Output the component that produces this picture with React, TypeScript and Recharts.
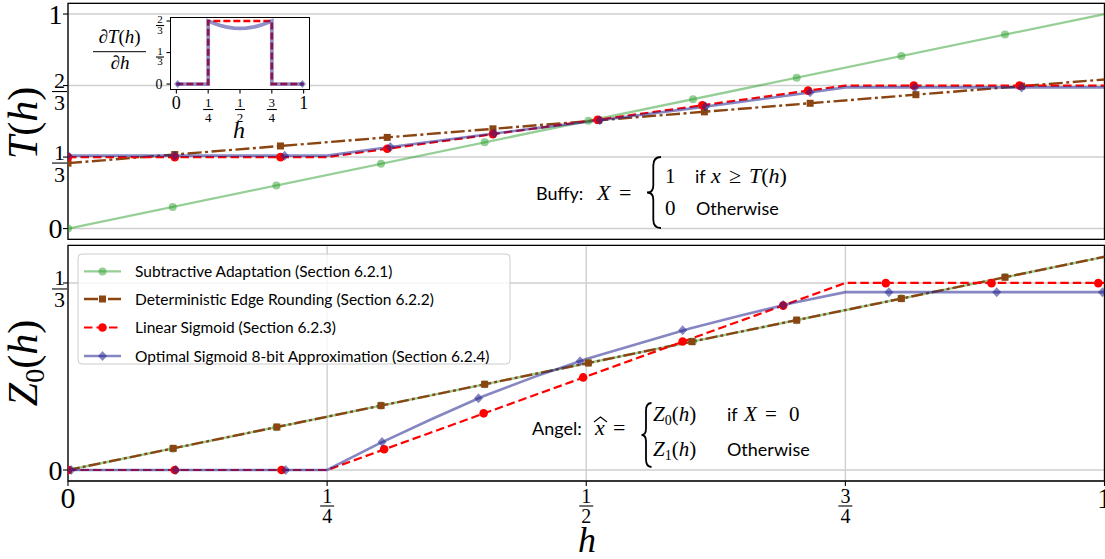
import React from 'react';
import { ComposedChart, Line, XAxis, YAxis, CartesianGrid, ReferenceArea } from 'recharts';

// ---------------- data ----------------
const xTicks = [0, 0.25, 0.5, 0.75, 1];
const xTickLabels = ['0', '1/4', '1/2', '3/4', '1'];
const topYTicks = [0, 1 / 3, 2 / 3, 1];
const topYTickLabels = ['0', '1/3', '2/3', '1'];
const botYTicks = [0, 1 / 3];
const botYTickLabels = ['0', '1/3'];
const insetYTicks = [0, 1 / 3, 2 / 3];
const insetYTickLabels = ['0', '1/3', '2/3'];

const legendLabels = [
  'Subtractive Adaptation (Section 6.2.1)',
  'Deterministic Edge Rounding (Section 6.2.2)',
  'Linear Sigmoid (Section 6.2.3)',
  'Optimal Sigmoid 8-bit Approximation (Section 6.2.4)',
];

// Top panel T(h)
const subtractiveTopH = [0, 1];
const subtractiveTopV = [0, 1];
const subtractiveTopMarkH = [0, 0.101, 0.201, 0.302, 0.402, 0.502, 0.603, 0.703, 0.804, 0.904];
const subtractiveTopMarkV = [0, 0.101, 0.201, 0.302, 0.402, 0.502, 0.603, 0.703, 0.804, 0.904];

const edgeTopH = [0, 1];
const edgeTopV = [0.305, 0.695];
const edgeTopMarkH = [0, 0.103, 0.205, 0.308, 0.41, 0.512, 0.614, 0.716, 0.818, 0.92];
const edgeTopMarkV = [0.305, 0.345, 0.385, 0.425, 0.465, 0.505, 0.544, 0.584, 0.624, 0.664];

const linearTopH = [0, 0.25, 0.75, 1];
const linearTopV = [1 / 3, 1 / 3, 2 / 3, 2 / 3];
const linearTopMarkH = [0, 0.103, 0.205, 0.308, 0.41, 0.511, 0.612, 0.714, 0.816, 0.918];
const linearTopMarkV = [0.333, 0.333, 0.333, 0.372, 0.44, 0.507, 0.575, 0.643, 0.667, 0.667];

const optimalTopH = [0, 0.25, 0.3, 0.35, 0.4, 0.45, 0.5, 0.55, 0.6, 0.65, 0.7, 0.75, 1];
const optimalTopV = [0.34, 0.34, 0.373, 0.405, 0.436, 0.467, 0.497, 0.528, 0.559, 0.591, 0.624, 0.658, 0.658];
const optimalTopMarkH = [0, 0.103, 0.209, 0.311, 0.411, 0.513, 0.615, 0.716, 0.817, 0.92];
const optimalTopMarkV = [0.34, 0.34, 0.34, 0.38, 0.443, 0.505, 0.569, 0.635, 0.658, 0.658];

// Bottom panel Z0(h)
const subtractiveBotH = [0, 1];
const subtractiveBotV = [0, 0.38];
const subtractiveBotMarkH = [0, 0.101, 0.201, 0.302, 0.402, 0.502, 0.603, 0.703, 0.804, 0.904];
const subtractiveBotMarkV = [0, 0.038, 0.076, 0.115, 0.153, 0.191, 0.229, 0.267, 0.306, 0.344];

const edgeBotH = [0, 1];
const edgeBotV = [0, 0.38];
const edgeBotMarkH = [0, 0.1015, 0.2015, 0.302, 0.402, 0.502, 0.602, 0.703, 0.804, 0.904];
const edgeBotMarkV = [0, 0.0386, 0.0766, 0.1148, 0.1528, 0.1908, 0.2288, 0.2671, 0.3055, 0.3435];

const linearBotH = [0, 0.25, 0.75, 1];
const linearBotV = [0, 0, 1 / 3, 1 / 3];
const linearBotMarkH = [0, 0.103, 0.206, 0.305, 0.401, 0.497, 0.593, 0.69, 0.789, 0.891, 0.994];
const linearBotMarkV = [0, 0, 0, 0.037, 0.101, 0.165, 0.229, 0.293, 0.333, 0.333, 0.333];

const optimalBotH = [0, 0.25, 0.3, 0.35, 0.4, 0.45, 0.5, 0.55, 0.6, 0.65, 0.7, 0.75, 1];
const optimalBotV = [0, 0, 0.047, 0.09, 0.131, 0.166, 0.198, 0.225, 0.252, 0.276, 0.298, 0.317, 0.317];
const optimalBotMarkH = [0.003, 0.104, 0.21, 0.303, 0.396, 0.494, 0.593, 0.69, 0.792, 0.896, 0.998];
const optimalBotMarkV = [0, 0, 0, 0.05, 0.128, 0.194, 0.249, 0.294, 0.317, 0.317, 0.317];

// Inset dT/dh
const linearDerivH = [0, 0.25, 0.25, 0.75, 0.75, 1];
const linearDerivV = [0, 0, 2 / 3, 2 / 3, 0, 0];
const optimalDerivH = [0, 0.25, 0.25, 0.3, 0.35, 0.4, 0.45, 0.5, 0.55, 0.6, 0.65, 0.7, 0.75, 0.75, 1];
const optimalDerivV = [0, 0, 0.667, 0.64, 0.617, 0.601, 0.592, 0.589, 0.592, 0.601, 0.617, 0.64, 0.667, 0, 0];
const optimalDerivMarkH = [0.01, 0.99];
const optimalDerivMarkV = [0, 0];

// ---------------- helpers ----------------
type P = { h: number; v: number };
const pts = (hs: number[], vs: number[]): P[] => hs.map((h, i) => ({ h, v: vs[i] }));

const SERIF = '"Liberation Serif", "DejaVu Serif", serif';
const SANS = 'Lato, "Open Sans", sans-serif';
const GREEN = '#2ca02c';
const BROWN = '#8b4513';
const RED = '#ff0000';
const BLUE = '#23238f';
const GRID = '#cfcfcf';

const circleDot = (color: string, r: number, op: number) => (p: any) =>
  p.cx == null ? <g key={`n${p.index}`} /> : (
    <circle key={`c${p.index}`} cx={p.cx} cy={p.cy} r={r} fill={color} fillOpacity={op} stroke="none" />
  );
const squareDot = (color: string, s: number) => (p: any) =>
  p.cx == null ? <g key={`n${p.index}`} /> : (
    <rect key={`s${p.index}`} x={p.cx - s / 2} y={p.cy - s / 2} width={s} height={s} fill={color} stroke="none" />
  );
const diamondDot = (color: string, r: number, op: number) => (p: any) =>
  p.cx == null ? <g key={`n${p.index}`} /> : (
    <polygon
      key={`d${p.index}`}
      points={`${p.cx},${p.cy - r} ${p.cx + r * 0.9},${p.cy} ${p.cx},${p.cy + r} ${p.cx - r * 0.9},${p.cy}`}
      fill={color}
      fillOpacity={op}
      stroke="none"
    />
  );

type Spec = {
  plainSize: number; fracSize: number; plainDy: number; numDy: number; barDy: number; denDy: number; barHalf: number;
};

function MathTick({ label, cx, cy, s }: { label: string; cx: number; cy: number; s: Spec }) {
  if (label.includes('/')) {
    const [n, d] = label.split('/');
    return (
      <g fontFamily={SERIF} fill="#000">
        <text x={cx} y={cy + s.numDy} fontSize={s.fracSize} textAnchor="middle">{n}</text>
        <line x1={cx - s.barHalf} x2={cx + s.barHalf} y1={cy + s.barDy} y2={cy + s.barDy} stroke="#000" strokeWidth={1.1} />
        <text x={cx} y={cy + s.denDy} fontSize={s.fracSize} textAnchor="middle">{d}</text>
      </g>
    );
  }
  return (
    <text x={cx} y={cy + s.plainDy} fontSize={s.plainSize} fontFamily={SERIF} textAnchor="middle" fill="#000">{label}</text>
  );
}

const labelFor = (ticks: number[], labels: string[], v: number) => {
  const i = ticks.findIndex((t) => Math.abs(t - v) < 1e-6);
  return i >= 0 ? labels[i] : '';
};

const mainYSpec: Spec = { plainSize: 28, fracSize: 22, plainDy: 9.5, numDy: 2.5, barDy: 6, denDy: 24.5, barHalf: 7.5 };
const mainXSpec: Spec = { plainSize: 30, fracSize: 20, plainDy: 27, numDy: 22, barDy: 25, denDy: 42, barHalf: 7 };
const insetXSpec: Spec = { plainSize: 18, fracSize: 13, plainDy: 19, numDy: 17, barDy: 19.5, denDy: 32, barHalf: 5 };
const insetYSpec: Spec = { plainSize: 14, fracSize: 11, plainDy: 4.5, numDy: 2, barDy: 4.5, denDy: 12.5, barHalf: 4 };

const makeYTick = (ticks: number[], labels: string[], s: Spec, plainX: number, fracX: number) => (p: any) => {
  const lab = labelFor(ticks, labels, p.payload.value);
  return <MathTick key={`yt${p.index}`} label={lab} cx={lab.includes('/') ? fracX : plainX} cy={p.y} s={s} />;
};
const makeXTick = (ticks: number[], labels: string[], s: Spec, axisY: number) => (p: any) => {
  const lab = labelFor(ticks, labels, p.payload.value);
  return <MathTick key={`xt${p.index}`} label={lab} cx={p.x} cy={axisY} s={s} />;
};

function Brace({ x, y0, y1, w }: { x: number; y0: number; y1: number; w: number }) {
  const h = y1 - y0;
  const ym = (y0 + y1) / 2;
  const xm = x + w * 0.45;
  const d = `M ${x + w} ${y0} Q ${xm} ${y0} ${xm} ${y0 + h * 0.12} L ${xm} ${ym - h * 0.1} Q ${xm} ${ym} ${x} ${ym} Q ${xm} ${ym} ${xm} ${ym + h * 0.1} L ${xm} ${y1 - h * 0.12} Q ${xm} ${y1} ${x + w} ${y1}`;
  return <path d={d} fill="none" stroke="#000" strokeWidth={1.8} />;
}

const common = { isAnimationActive: false, activeDot: false, legendType: 'none' as const, type: 'linear' as const };

// ---------------- app ----------------
export default function App() {
  const tickLine = { stroke: '#000', strokeWidth: 1.1 };
  return (
    <div style={{ position: 'absolute', left: 0, top: 0, width: 1105, height: 559, overflow: 'hidden', background: '#fff' }}>
      {/* top panel */}
      <div style={{ position: 'absolute', left: 0, top: 0 }}>
        <ComposedChart width={1110} height={250} margin={{ top: 3.3, right: 5.5, bottom: 0, left: 0 }}>
          <CartesianGrid stroke={GRID} strokeWidth={1.4} />
          <XAxis type="number" dataKey="h" domain={[0, 1]} ticks={xTicks} interval={0} allowDataOverflow
            height={10.7} axisLine={false} tick={false} tickLine={tickLine} tickSize={4} />
          <YAxis type="number" domain={[-0.05, 1.05]} ticks={topYTicks} interval={0} allowDataOverflow width={68}
            axisLine={false} tickLine={tickLine} tickSize={5}
            tick={makeYTick(topYTicks, topYTickLabels, mainYSpec, 55.5, 59.5)} />
          <Line {...common} data={pts(subtractiveTopH, subtractiveTopV)} dataKey="v" stroke={GREEN} strokeOpacity={0.5} strokeWidth={2.3} dot={false} />
          <Line {...common} data={pts(subtractiveTopMarkH, subtractiveTopMarkV)} dataKey="v" stroke="none" dot={circleDot(GREEN, 4, 0.5)} />
          <Line {...common} data={pts(edgeTopH, edgeTopV)} dataKey="v" stroke={BROWN} strokeWidth={2.4} strokeDasharray="14 3.5 3 3.5" dot={false} />
          <Line {...common} data={pts(edgeTopMarkH, edgeTopMarkV)} dataKey="v" stroke="none" dot={squareDot(BROWN, 7)} />
          <Line {...common} data={pts(linearTopH, linearTopV)} dataKey="v" stroke={RED} strokeWidth={2.2} strokeDasharray="8.5 4" dot={false} />
          <Line {...common} data={pts(linearTopMarkH, linearTopMarkV)} dataKey="v" stroke="none" dot={circleDot(RED, 4.3, 1)} />
          <Line {...common} data={pts(optimalTopH, optimalTopV)} dataKey="v" stroke={BLUE} strokeOpacity={0.55} strokeWidth={2.6} dot={false} />
          <Line {...common} data={pts(optimalTopMarkH, optimalTopMarkV)} dataKey="v" stroke="none" dot={diamondDot(BLUE, 5, 0.55)} />
          <ReferenceArea x1={0} x2={1} y1={-0.05} y2={1.05} fill="none" stroke="#000" strokeWidth={1.3} ifOverflow="visible" />
        </ComposedChart>
      </div>

      {/* bottom panel */}
      <div style={{ position: 'absolute', left: 0, top: 240 }}>
        <ComposedChart width={1110} height={319} margin={{ top: 5.4, right: 5.5, bottom: 0, left: 0 }}>
          <CartesianGrid stroke={GRID} strokeWidth={1.4} />
          <XAxis type="number" dataKey="h" domain={[0, 1]} ticks={xTicks} interval={0} allowDataOverflow
            height={78} axisLine={false} tickLine={tickLine} tickSize={5}
            tick={makeXTick(xTicks, xTickLabels, mainXSpec, 241)} />
          <YAxis type="number" domain={[-0.0196, 0.4003]} ticks={botYTicks} interval={0} allowDataOverflow width={68}
            axisLine={false} tickLine={tickLine} tickSize={5}
            tick={makeYTick(botYTicks, botYTickLabels, mainYSpec, 55.5, 59.5)} />
          <Line {...common} data={pts(subtractiveBotH, subtractiveBotV)} dataKey="v" stroke={GREEN} strokeOpacity={0.5} strokeWidth={2.3} dot={false} />
          <Line {...common} data={pts(subtractiveBotMarkH, subtractiveBotMarkV)} dataKey="v" stroke="none" dot={circleDot(GREEN, 4, 0.5)} />
          <Line {...common} data={pts(edgeBotH, edgeBotV)} dataKey="v" stroke={BROWN} strokeWidth={2.4} strokeDasharray="12 3 3 3" dot={false} />
          <Line {...common} data={pts(edgeBotMarkH, edgeBotMarkV)} dataKey="v" stroke="none" dot={squareDot(BROWN, 7)} />
          <Line {...common} data={pts(linearBotH, linearBotV)} dataKey="v" stroke={RED} strokeWidth={2.2} strokeDasharray="8.5 4" dot={false} />
          <Line {...common} data={pts(linearBotMarkH, linearBotMarkV)} dataKey="v" stroke="none" dot={circleDot(RED, 4.3, 1)} />
          <Line {...common} data={pts(optimalBotH, optimalBotV)} dataKey="v" stroke={BLUE} strokeOpacity={0.55} strokeWidth={2.6} dot={false} />
          <Line {...common} data={pts(optimalBotMarkH, optimalBotMarkV)} dataKey="v" stroke="none" dot={diamondDot(BLUE, 5, 0.55)} />
          <ReferenceArea x1={0} x2={1} y1={-0.0196} y2={0.4003} fill="none" stroke="#000" strokeWidth={1.3} ifOverflow="visible" />
        </ComposedChart>
      </div>

      {/* inset background */}
      <div style={{ position: 'absolute', left: 170, top: 17.3, width: 140, height: 72.7, background: '#fff', border: '1px solid #000', boxSizing: 'border-box' }} />
      {/* inset */}
      <div style={{ position: 'absolute', left: 140, top: 0 }}>
        <ComposedChart width={175} height={145} margin={{ top: 17.3, right: 5, bottom: 0, left: 0 }}>
          <XAxis type="number" dataKey="h" domain={[-0.05, 1.05]} ticks={xTicks} interval={0} allowDataOverflow
            height={55} axisLine={false} tickLine={tickLine} tickSize={3.5}
            tick={makeXTick(xTicks, xTickLabels, insetXSpec, 90)} />
          <YAxis type="number" domain={[-0.063, 0.706]} ticks={insetYTicks} interval={0} allowDataOverflow width={30}
            axisLine={false} tickLine={tickLine} tickSize={3.5}
            tick={makeYTick(insetYTicks, insetYTickLabels, insetYSpec, 19, 20)} />
          <Line {...common} data={pts(linearDerivH, linearDerivV)} dataKey="v" stroke={RED} strokeWidth={2.6} strokeDasharray="7 3" dot={false} />
          <Line {...common} data={pts(optimalDerivH, optimalDerivV)} dataKey="v" stroke={BLUE} strokeOpacity={0.5} strokeWidth={3.8} dot={false} />
          <Line {...common} data={pts(optimalDerivMarkH, optimalDerivMarkV)} dataKey="v" stroke="none" dot={diamondDot(BLUE, 4, 0.5)} />
        </ComposedChart>
      </div>

      {/* overlay text */}
      <svg style={{ position: 'absolute', left: 0, top: 0 }} width={1105} height={559}>
        {/* axis labels */}
        <text transform="translate(37,123) rotate(-90)" textAnchor="middle" fontFamily={SERIF} fontSize={42} fill="#000">
          <tspan fontStyle="italic">T</tspan>(<tspan fontStyle="italic">h</tspan>)
        </text>
        <text transform="translate(37,363) rotate(-90)" textAnchor="middle" fontFamily={SERIF} fontSize={42} fill="#000">
          <tspan fontStyle="italic">Z</tspan><tspan fontSize={28} dy={7}>0</tspan><tspan dy={-7}>(</tspan><tspan fontStyle="italic">h</tspan>)
        </text>
        <text x={587} y={552} textAnchor="middle" fontFamily={SERIF} fontSize={36} fontStyle="italic" fill="#000">h</text>

        {/* inset labels */}
        <text x={239} y={138} textAnchor="middle" fontFamily={SERIF} fontSize={24} fontStyle="italic">h</text>
        <text x={119.5} y={43} textAnchor="middle" fontFamily={SERIF} fontSize={19}>
          ∂<tspan fontStyle="italic">T</tspan>(<tspan fontStyle="italic">h</tspan>)
        </text>
        <line x1={93} x2={146} y1={51.7} y2={51.7} stroke="#000" strokeWidth={1} />
        <text x={120} y={69} textAnchor="middle" fontFamily={SERIF} fontSize={19}>
          ∂<tspan fontStyle="italic">h</tspan>
        </text>

        {/* Buffy */}
        <text x={536} y={200} fontFamily={SANS} fontSize={18}>Buffy:</text>
        <text x={597} y={200} fontFamily={SERIF} fontSize={22}>
          <tspan fontStyle="italic">X</tspan><tspan x={619}>=</tspan>
        </text>
        <Brace x={647} y0={157} y1={228} w={14} />
        <text x={665} y={183} fontFamily={SERIF} fontSize={21}>1</text>
        <text x={695} y={183} fontFamily={SANS} fontSize={18}>if</text>
        <text x={711} y={183} fontFamily={SERIF} fontSize={22}>
          <tspan fontStyle="italic">x</tspan><tspan x={729}>≥</tspan><tspan x={749} fontStyle="italic">T</tspan><tspan>(</tspan><tspan fontStyle="italic">h</tspan><tspan>)</tspan>
        </text>
        <text x={665} y={215} fontFamily={SERIF} fontSize={21}>0</text>
        <text x={696} y={215} fontFamily={SANS} fontSize={18}>Otherwise</text>

        {/* Angel */}
        <text x={532} y={435} fontFamily={SANS} fontSize={18}>Angel:</text>
        <text x={595} y={435} fontFamily={SERIF} fontSize={22} fontStyle="italic">x</text>
        <path d="M 594 422 L 600.5 417 L 607 422" fill="none" stroke="#000" strokeWidth={1.1} />
        <text x={613} y={435} fontFamily={SERIF} fontSize={22}>=</text>
        <Brace x={641.5} y0={403} y1={467} w={10} />
        <text x={653} y={421} fontFamily={SERIF} fontSize={21}>
          <tspan fontStyle="italic">Z</tspan><tspan fontSize={14} dy={4}>0</tspan><tspan dy={-4}>(</tspan><tspan fontStyle="italic">h</tspan><tspan>)</tspan>
        </text>
        <text x={727} y={421} fontFamily={SANS} fontSize={18}>if</text>
        <text x={744} y={421} fontFamily={SERIF} fontSize={21}>
          <tspan fontStyle="italic">X</tspan><tspan x={765}>=</tspan><tspan x={789}>0</tspan>
        </text>
        <text x={653} y={456} fontFamily={SERIF} fontSize={21}>
          <tspan fontStyle="italic">Z</tspan><tspan fontSize={14} dy={4}>1</tspan><tspan dy={-4}>(</tspan><tspan fontStyle="italic">h</tspan><tspan>)</tspan>
        </text>
        <text x={727} y={456} fontFamily={SANS} fontSize={18}>Otherwise</text>

        {/* legend */}
        <rect x={78} y={254} width={432} height={110} rx={4} fill="#fff" fillOpacity={0.8} stroke="#cccccc" strokeWidth={1} />
        {/* row 1 */}
        <line x1={84} x2={121} y1={271.4} y2={271.4} stroke={GREEN} strokeOpacity={0.5} strokeWidth={2.3} />
        <circle cx={102.5} cy={271.4} r={4} fill={GREEN} fillOpacity={0.5} />
        {/* row 2 */}
        <line x1={84} x2={121} y1={299} y2={299} stroke={BROWN} strokeWidth={2.4} strokeDasharray="14 3.5 3 3.5" />
        <rect x={99} y={295.5} width={7} height={7} fill={BROWN} />
        {/* row 3 */}
        <line x1={84} x2={121} y1={327.5} y2={327.5} stroke={RED} strokeWidth={2.2} strokeDasharray="8.5 4" />
        <circle cx={102.5} cy={327.5} r={4.3} fill={RED} />
        {/* row 4 */}
        <line x1={84} x2={121} y1={356} y2={356} stroke={BLUE} strokeOpacity={0.55} strokeWidth={2.6} />
        <polygon points="102.5,351 107,356 102.5,361 98,356" fill={BLUE} fillOpacity={0.55} />
        {legendLabels.map((t, i) => (
          <text key={t} x={135} y={[271.4, 299, 327.5, 356][i] + 5.5} fontFamily={SANS} fontSize={15.5} fill="#000">{t}</text>
        ))}
      </svg>
    </div>
  );
}
